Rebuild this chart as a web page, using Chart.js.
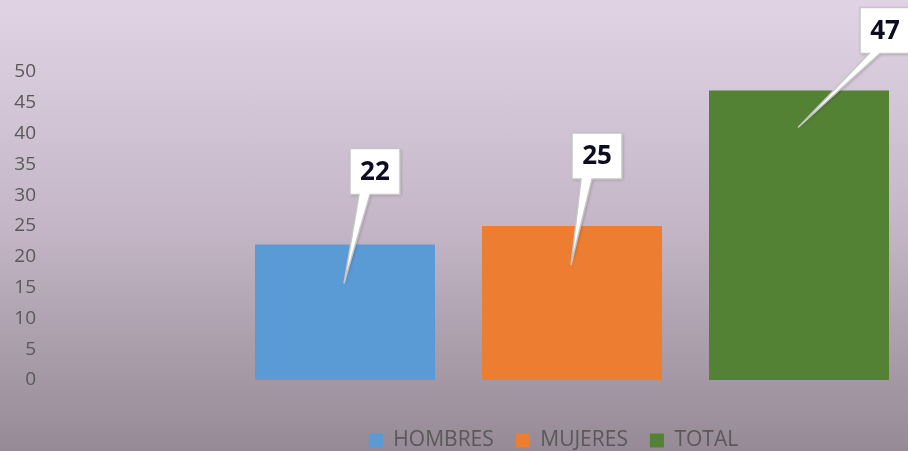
<!DOCTYPE html>
<html>
<head>
<meta charset="utf-8">
<script src="https://cdn.jsdelivr.net/npm/chart.js@4"></script>
<style>
  html, body { margin: 0; padding: 0; overflow: hidden; }
  body {
    width: 908px; height: 451px;
    background: linear-gradient(to bottom, #e0d4e4 0%, #c4b6c6 50%, #958a95 100%);
  }
  #wrap { position: relative; width: 1106px; height: 461px; }
</style>
</head>
<body>
<div id="wrap"><canvas id="chart"></canvas></div>
<script>
const categories = ['']
const seriesNames = ['HOMBRES', 'MUJERES', 'TOTAL']
const hombres = [22]
const mujeres = [25]
const total = [47]
const yTicks = [0, 5, 10, 15, 20, 25, 30, 35, 40, 45, 50]

const colors = ['#5b9bd5', '#ed7d31', '#548235']

// callout boxes, offsets from bar centre / bar top
const callouts = [
  { bx: 5, by: -96, tip: 39 },
  { bx: 0, by: -93, tip: 39 },
  { bx: 61, by: -83, tip: 37 }
]

const calloutPlugin = {
  id: 'callouts',
  afterDatasetsDraw (chart) {
    const ctx = chart.ctx
    chart.data.datasets.forEach((ds, i) => {
      const bar = chart.getDatasetMeta(i).data[0]
      if (!bar) return
      const c = callouts[i]
      const w = 50, h = 46
      const left = bar.x + c.bx
      const top = bar.y + c.by
      const bottom = top + h
      const tipX = bar.x - 1
      const tipY = bar.y + c.tip
      ctx.save()
      ctx.beginPath()
      ctx.moveTo(left, top)
      ctx.lineTo(left + w, top)
      ctx.lineTo(left + w, bottom)
      ctx.lineTo(left + 20, bottom)
      ctx.lineTo(tipX, tipY)
      ctx.lineTo(left + 9, bottom)
      ctx.lineTo(left, bottom)
      ctx.closePath()
      ctx.shadowColor = 'rgba(0,0,0,0.25)'
      ctx.shadowBlur = 3
      ctx.shadowOffsetX = 1
      ctx.shadowOffsetY = 1
      ctx.fillStyle = '#ffffff'
      ctx.fill()
      ctx.shadowColor = 'transparent'
      ctx.lineWidth = 1.5
      ctx.strokeStyle = '#c6c6c6'
      ctx.stroke()
      ctx.fillStyle = '#0d0d1f'
      ctx.font = 'bold 26px "Open Sans"'
      ctx.textAlign = 'center'
      ctx.textBaseline = 'middle'
      ctx.fillText(String(ds.data[0]), left + w / 2, top + h / 2 + 1)
      ctx.restore()
    })
  }
}

function build () {
  const ctx = document.getElementById('chart').getContext('2d')
  const values = [hombres, mujeres, total]

  const chart = new Chart(ctx, {
    type: 'bar',
    data: {
      labels: categories,
      datasets: seriesNames.map((name, i) => ({
        label: name,
        data: values[i],
        backgroundColor: colors[i],
        borderWidth: 0,
        categoryPercentage: 0.6486,
        barPercentage: 0.793
      }))
    },
    options: {
      responsive: false,
      animation: false,
      layout: { padding: { left: 10, right: 9, top: 72, bottom: 0 } },
      scales: {
        x: {
          grid: { display: false, drawTicks: false },
          border: { display: false },
          ticks: { display: false },
          afterFit: (axis) => { axis.height = 28 }
        },
        y: {
          min: 0,
          max: 50,
          afterBuildTicks: (axis) => { axis.ticks = yTicks.map(v => ({ value: v })) },
          afterFit: (axis) => { axis.width = 37 },
          grid: { display: false, drawTicks: false },
          border: { display: false },
          ticks: {
            padding: 11,
            color: '#595959',
            font: { family: 'Open Sans', size: 19 }
          }
        }
      },
      plugins: {
        legend: {
          position: 'bottom',
          labels: {
            boxWidth: 14,
            boxHeight: 14,
            padding: 22,
            color: '#595959',
            font: { family: 'Open Sans', size: 21 }
          }
        },
        tooltip: { enabled: false }
      }
    },
    plugins: [calloutPlugin]
  })
  return chart
}

const canvas = document.getElementById('chart')
canvas.width = 1106
canvas.height = 461
canvas.style.width = '1106px'
canvas.style.height = '461px'
build()
</script>
</body>
</html>
